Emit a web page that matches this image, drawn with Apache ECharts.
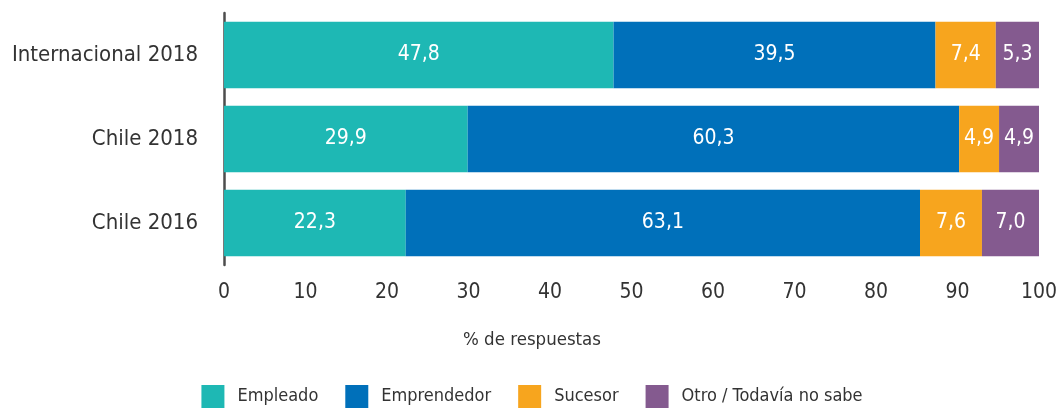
<!DOCTYPE html>
<html>
<head>
<meta charset="utf-8">
<script src="https://cdn.jsdelivr.net/npm/echarts@6/dist/echarts.min.js"></script>
<style>
  html, body { margin: 0; padding: 0; background: #fff; }
  #chart { width: 1064px; height: 410px; }
</style>
</head>
<body>
<div id="chart"></div>
<script>
// Grupos (de abajo hacia arriba en el eje vertical)
const categories = ['Chile 2016', 'Chile 2018', 'Internacional 2018'];
const seriesNames = ['Empleado', 'Emprendedor', 'Sucesor', 'Otro / Todavía no sabe'];
const empleado = [22.3, 29.9, 47.8];
const emprendedor = [63.1, 60.3, 39.5];
const sucesor = [7.6, 4.9, 7.4];
const otro = [7.0, 4.9, 5.3];
const colors = ['#1EB8B4', '#0070BA', '#F7A51E', '#845A8F'];
const axisTitle = '% de respuestas';

const FONT = '"DejaVu Sans Condensed", "DejaVu Sans", sans-serif';
const TEXT = '#333333';
const values = [empleado, emprendedor, sucesor, otro];

const chart = echarts.init(document.getElementById('chart'), null, { renderer: 'canvas' });
chart.setOption({
  animation: false,
  textStyle: { fontFamily: FONT },
  title: {
    text: axisTitle,
    left: 'center',
    top: 331,
    padding: 0,
    textStyle: { fontFamily: FONT, fontSize: 18.5, fontWeight: 'normal', color: TEXT }
  },
  grid: { left: 224, right: 25, top: 13, bottom: 145, containLabel: false, outerBoundsMode: 'none' },
  legend: {
    top: 385,
    left: 'center',
    padding: 0,
    itemWidth: 23,
    itemHeight: 23,
    itemGap: 27,
    icon: 'rect',
    textStyle: { fontFamily: FONT, fontSize: 18, color: TEXT, padding: [4, 0, 0, 8] },
    data: seriesNames
  },
  xAxis: {
    type: 'value',
    min: 0,
    max: 100,
    interval: 10,
    axisLine: { show: false },
    axisTick: { show: false },
    splitLine: { show: false },
    axisLabel: { fontFamily: FONT, fontSize: 21, color: TEXT, margin: 17 }
  },
  yAxis: {
    type: 'category',
    data: categories,
    axisLine: { show: true, lineStyle: { color: '#4d4d4d', width: 2.5 } },
    axisTick: { show: false },
    axisLabel: { fontFamily: FONT, fontSize: 22, color: TEXT, margin: 26 }
  },
  series: seriesNames.map((name, i) => ({
    name,
    type: 'bar',
    stack: 'total',
    barCategoryGap: '21%',
    itemStyle: { color: colors[i] },
    label: {
      show: true,
      position: 'inside',
      color: '#fff',
      fontFamily: FONT,
      fontSize: 21,
      formatter: p => p.value.toFixed(1).replace('.', ',')
    },
    data: values[i]
  }))
});
</script>
</body>
</html>
